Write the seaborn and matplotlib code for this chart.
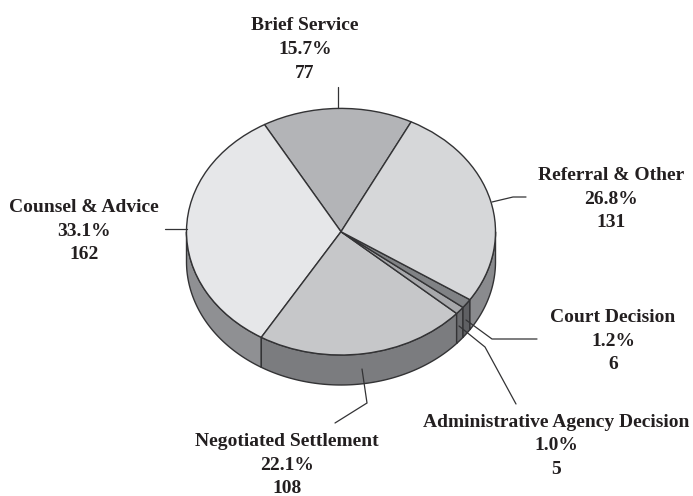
import numpy as np
import matplotlib
matplotlib.use('Agg')
import matplotlib.pyplot as plt
import seaborn as sns

# slices in drawing order, going round from the top
categories = ['Brief Service', 'Counsel & Advice', 'Negotiated Settlement',
              'Administrative Agency Decision', 'Court Decision', 'Referral & Other']
counts = [77, 162, 108, 5, 6, 131]
percents = ['15.7%', '33.1%', '22.1%', '1.0%', '1.2%', '26.8%']
top_colors = ['#b3b4b7', '#e6e7e9', '#c6c7c9', '#a7a8ab', '#808285', '#d6d7d9']
side_colors = ['#8f9093', '#8f9093', '#7b7c7f', '#6b6c6f', '#5f6063', '#8a8b8e']

sns.set_theme(style='white')
plt.rcParams['font.family'] = ['Liberation Serif', 'DejaVu Serif']

W, H = 693, 496
cx, cy, rx, ry, depth = 341, 231.7, 154.5, 123.3, 30
start = 63
edge = '#333335'

fig = plt.figure(figsize=(W / 100, H / 100), dpi=100, facecolor='white')
ax = fig.add_axes([0, 0, 1, 1])

# top face
wedges, _ = ax.pie(counts, startangle=start, colors=sns.color_palette(top_colors),
                   wedgeprops=dict(edgecolor=edge, linewidth=1.0, zorder=3))
ax.set_aspect('auto')
ax.set_xlim(-cx / rx, (W - cx) / rx)
ax.set_ylim(-(H - cy) / ry, cy / ry)

# side wall, only the part of each slice on the lower half shows
d = depth / ry
for w, col in zip(wedges, side_colors):
    a1, a2 = w.theta1, w.theta2
    for lo, hi in [(a1, a2), (a1 - 360, a2 - 360)]:
        lo, hi = max(lo, 180), min(hi, 360)
        if hi <= lo:
            continue
        t = np.radians(np.linspace(lo, hi, 80))
        xs = np.concatenate([np.cos(t), np.cos(t[::-1])])
        ys = np.concatenate([np.sin(t), np.sin(t[::-1]) - d])
        ax.fill(xs, ys, facecolor=col, edgecolor=edge, linewidth=1.0, zorder=2)

# overlay in pixel coordinates for the labels and leader lines
ov = fig.add_axes([0, 0, 1, 1])
ov.set_xlim(0, W)
ov.set_ylim(H, 0)
ov.axis('off')

leaders = [
    ([338, 338], [108, 87]),
    ([187, 165], [229, 229]),
    ([362, 367, 335], [369, 403, 423]),
    ([459, 485, 516], [326, 347, 404]),
    ([466, 492, 537], [320, 339, 339]),
    ([492, 513, 526], [202, 197, 197]),
]
for xs, ys in leaders:
    ov.plot(xs, ys, color=edge, lw=0.9, solid_joinstyle='miter')

label_pos = [(305, 49.5), (84, 231), (287, 465), (556, 446), (613, 341), (611, 199)]
for name, pct, n, (x, y) in zip(categories, percents, counts, label_pos):
    ov.text(x, y, f'{name}\n{pct}\n{n}', ha='center', va='center', fontsize=14,
            fontweight='bold', color='#231f20', linespacing=1.5)

plt.savefig('out.png', dpi=100)
